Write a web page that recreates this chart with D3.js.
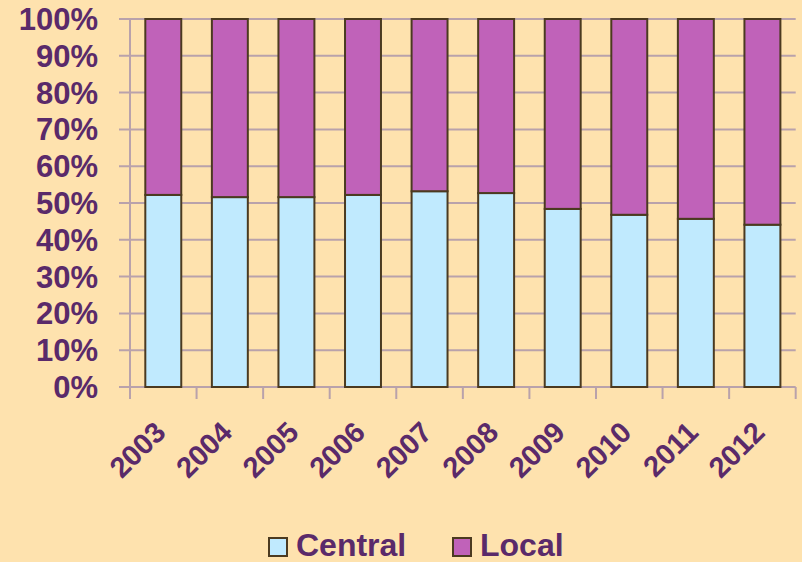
<!DOCTYPE html>
<html>
<head>
<meta charset="utf-8">
<script src="https://cdn.jsdelivr.net/npm/d3@7"></script>
<style>
html,body{margin:0;padding:0;background:#fee2ae;}
svg{display:block;}
text{font-family:"Liberation Sans",Arial,sans-serif;font-weight:bold;fill:#5a2a6a;}
</style>
</head>
<body>
<svg id="chart" width="802" height="562"></svg>
<script>
const categories = ["2003","2004","2005","2006","2007","2008","2009","2010","2011","2012"];
const central = [52.2, 51.6, 51.6, 52.2, 53.2, 52.7, 48.4, 46.8, 45.7, 44.1];
const local = [47.8, 48.4, 48.4, 47.8, 46.8, 47.3, 51.6, 53.2, 54.3, 55.9];
const yTicks = [0,10,20,30,40,50,60,70,80,90,100];
const seriesNames = ["Central","Local"];
const seriesColors = ["#c0eafe","#c062b9"];

(function(){
const svg = d3.select("#chart");
const pLeft = 130, pRight = 795.7, pTop = 19, pBottom = 387;
const x = d3.scaleBand().domain(categories).range([pLeft, pRight]).paddingInner(0.46).paddingOuter(0.23);
const y = d3.scaleLinear().domain([0,100]).range([pBottom, pTop]);
const gridColor = "#b9a2ab";

svg.append("g").selectAll("line").data(yTicks).join("line")
  .attr("x1", pLeft - 11).attr("x2", pRight)
  .attr("y1", d => y(d)).attr("y2", d => y(d))
  .attr("stroke", gridColor).attr("stroke-width", 2);

svg.append("line").attr("x1", pLeft).attr("x2", pLeft).attr("y1", pTop).attr("y2", pBottom + 12)
  .attr("stroke", gridColor).attr("stroke-width", 2);

const bw = (pRight - pLeft) / categories.length;
svg.append("g").selectAll("line").data(d3.range(categories.length + 1)).join("line")
  .attr("x1", i => pLeft + i * bw).attr("x2", i => pLeft + i * bw)
  .attr("y1", pBottom).attr("y2", pBottom + 12)
  .attr("stroke", gridColor).attr("stroke-width", 2);

const rows = categories.map((c, i) => ({cat: c, Central: central[i], Local: local[i]}));
const stack = d3.stack().keys(seriesNames)(rows);

svg.append("g").selectAll("g").data(stack).join("g")
  .attr("fill", (d, i) => seriesColors[i])
  .selectAll("rect").data(d => d).join("rect")
  .attr("x", d => x(d.data.cat))
  .attr("width", x.bandwidth())
  .attr("y", d => y(d[1]))
  .attr("height", d => y(d[0]) - y(d[1]))
  .attr("stroke", "#4b3a20").attr("stroke-width", 2);

svg.append("g").selectAll("text").data(yTicks).join("text")
  .attr("x", 98).attr("y", d => y(d) + 11)
  .attr("text-anchor", "end").style("font-size", "31px")
  .text(d => d + "%");

svg.append("g").selectAll("text").data(categories).join("text")
  .attr("text-anchor", "end").style("font-size", "29px")
  .attr("transform", d => `translate(${x(d) + x.bandwidth()/2 + 4},434) rotate(-45)`)
  .text(d => d);

const legendX = [269, 453];
const lg = svg.append("g").selectAll("g").data(seriesNames).join("g")
  .attr("transform", (d, i) => `translate(${legendX[i]},538)`);
lg.append("rect").attr("width", 18).attr("height", 18)
  .attr("fill", (d, i) => seriesColors[i]).attr("stroke", "#4b3a20").attr("stroke-width", 2);
lg.append("text").attr("x", 27).attr("y", 18).style("font-size", "32px").text(d => d);
})();
</script>
</body>
</html>
